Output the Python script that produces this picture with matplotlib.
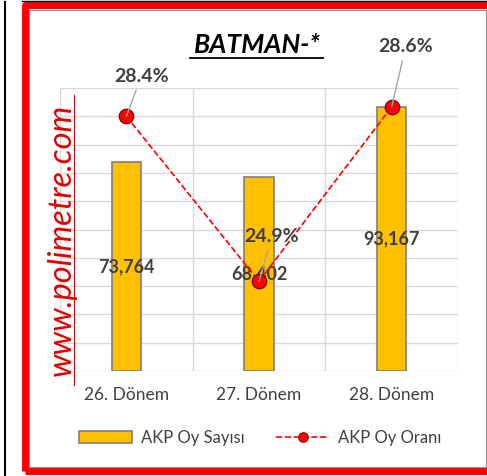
import matplotlib.pyplot as plt
from matplotlib.patches import Rectangle
from matplotlib.lines import Line2D

# data
categories = ["26. Dönem", "27. Dönem", "28. Dönem"]
oy_sayisi = [73764, 68402, 93167]
oy_orani = [28.4, 24.9, 28.6]
title = "BATMAN-*"

W, H = 487, 476
plt.rcParams['font.family'] = ['Lato', 'DejaVu Sans']

fig = plt.figure(figsize=(W / 100, H / 100), dpi=100)


def fx(x):
    return x / W


def fy(y):
    return 1 - y / H


# frame decoration
fig.add_artist(Line2D([fx(5), fx(5)], [fy(2), fy(476)], color='black', lw=1.5, transform=fig.transFigure))
fig.add_artist(Line2D([fx(22), fx(487)], [fy(1), fy(1)], color='black', lw=1.0, transform=fig.transFigure))
fig.add_artist(Rectangle((fx(24.5), fy(470.5)), fx(470), 470.5 / H - 5.5 / H, fill=False,
                         ec='#FF0000', lw=5.0, transform=fig.transFigure, joinstyle='round'))
fig.add_artist(Rectangle((fx(28.5), fy(466.5)), fx(457), 466.5 / H - 9.5 / H, fill=False,
                         ec='#8C8C8C', lw=0.8, transform=fig.transFigure))

# plot area
left, top, right, bottom = 60, 88, 458, 371
ax = fig.add_axes([fx(left), fy(bottom), fx(right - left), (bottom - top) / H])
x = range(len(categories))
ax.bar(x, oy_sayisi, width=0.22, color='#FFC000', edgecolor='#7F7F7F', lw=1.2, zorder=2,
       label='AKP Oy Sayısı')
ax.set_ylim(0, 100000)
ax.set_xlim(-0.5, 2.5)
ax.set_yticks(range(0, 100001, 10000))
ax.set_xticks([-0.5, 0.5, 1.5, 2.5], minor=False)
ax.grid(True, color='#D9D9D9', lw=1.0, zorder=0)
ax.tick_params(axis='both', length=0, labelleft=False, labelbottom=False)
for s in ax.spines.values():
    s.set_visible(False)
for i, v in enumerate(oy_sayisi):
    ax.text(i, v / 2, f"{v:,}", ha='center', va='center', fontsize=13, fontweight='bold',
            color='#404040', zorder=3)
for i, c in enumerate(categories):
    ax.text(i, -0.085, c, transform=ax.get_xaxis_transform(), ha='center', va='center',
            fontsize=12.5, color='#404040')

ax2 = ax.twinx()
ax2.plot(x, oy_orani, ls='--', color='#FF0000', lw=1.2, marker='o', ms=10.5,
         mfc='#FF0000', mec='#600000', mew=0.8, zorder=4)
ax2.set_ylim(23, 29)
ax2.set_yticks([])
for s in ax2.spines.values():
    s.set_visible(False)
offsets = [(15, 40), (13, 45), (14, 60)]
for i, v in enumerate(oy_orani):
    ax2.annotate(f"{v}%", xy=(i, v), xytext=offsets[i], textcoords='offset pixels',
                 ha='center', va='center', fontsize=14, fontweight='bold', color='#404040',
                 arrowprops=dict(arrowstyle='-', color='#A6A6A6', lw=1.0, shrinkA=2, shrinkB=0),
                 zorder=5)

# title with underline
fig.text(fx(257), fy(45), title, ha='center', va='center', fontsize=19, fontweight='bold',
         fontstyle='italic', color='black')
fig.add_artist(Line2D([fx(190), fx(323)], [fy(57.5), fy(57.5)], color='black', lw=1.3,
                      transform=fig.transFigure))

# watermark
fig.text(fx(62), fy(240), "www.polimetre.com", rotation=90, ha='center', va='center',
         fontsize=23.5, fontstyle='italic', color='#E00000')
fig.add_artist(Line2D([fx(73.5), fx(73.5)], [fy(95), fy(385)], color='#E00000', lw=0.8,
                      transform=fig.transFigure))

# legend
h1, l1 = ax.get_legend_handles_labels()
line_handle = Line2D([], [], ls='--', color='#FF0000', lw=1.2, marker='o', ms=7,
                     mfc='#FF0000', mec='#600000', mew=0.6)
fig.legend(h1 + [line_handle], l1 + ['AKP Oy Oranı'], loc='center',
           bbox_to_anchor=(fx(260), fy(438)), ncol=2,
           frameon=False, fontsize=12, handlelength=3.2, columnspacing=1.9,
           handletextpad=0.5, labelcolor='#404040')

fig.savefig("out.png", dpi=100)
